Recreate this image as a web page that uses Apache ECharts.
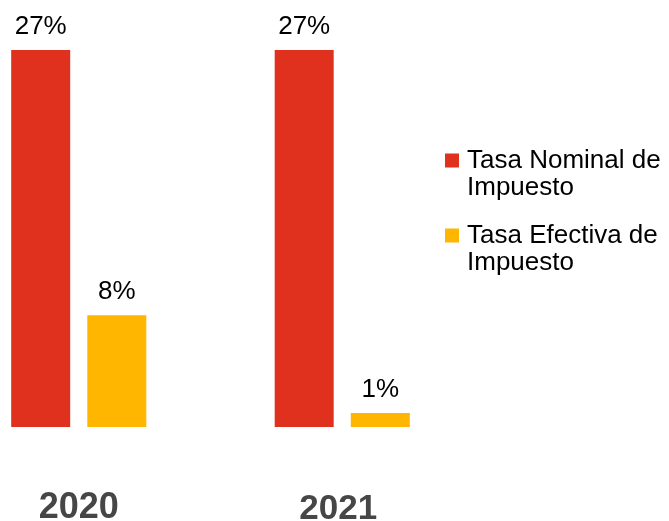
<!DOCTYPE html>
<html>
<head>
<meta charset="utf-8">
<script src="https://cdn.jsdelivr.net/npm/echarts@6/dist/echarts.min.js"></script>
<style>
  html, body { margin: 0; padding: 0; background: #fff; }
  #chart { width: 669px; height: 521px; }
</style>
</head>
<body>
<div id="chart"></div>
<script>
// Tax rates per year, in percent
const years = ['2020', '2021'];
const seriesNames = ['Tasa Nominal de\nImpuesto', 'Tasa Efectiva de\nImpuesto'];
const nominalRate = [27, 27];
const effectiveRate = [8, 1];

const chart = echarts.init(document.getElementById('chart'));

const fontFamily = 'Liberation Sans, Arial, sans-serif';

const valueLabel = {
  show: true,
  position: 'top',
  distance: 10,
  formatter: p => p.value + '%',
  fontFamily: fontFamily,
  fontSize: 26,
  color: '#000'
};

chart.setOption({
  animation: false,
  backgroundColor: '#fff',
  grid: { left: -53, right: 195, top: 50, bottom: 94, outerBoundsMode: 'none' },
  legend: {
    orient: 'vertical',
    left: 445,
    top: 120,
    padding: 0,
    itemGap: -6,
    itemWidth: 14,
    itemHeight: 14,
    icon: 'rect',
    selectedMode: false,
    data: seriesNames,
    // a blank first line keeps the marker level with the first line of text
    formatter: name => '\n' + name.split('\n').map(s => '{t|' + s + '}').join('\n'),
    textStyle: {
      fontFamily: fontFamily,
      fontSize: 26,
      lineHeight: 27,
      color: '#000',
      rich: {
        t: {
          fontFamily: fontFamily,
          fontSize: 26,
          lineHeight: 27,
          color: '#000',
          padding: [0, 0, 0, 3]
        }
      }
    }
  },
  xAxis: {
    type: 'category',
    data: years,
    axisLine: { show: false },
    axisTick: { show: false },
    axisLabel: {
      margin: 63,
      fontFamily: fontFamily,
      fontWeight: 'bold',
      fontSize: 36,
      color: '#464646',
      formatter: v => v === '2021' ? '{b|' + v + '}' : v,
      rich: {
        b: {
          fontFamily: fontFamily,
          fontWeight: 'bold',
          fontSize: 35,
          color: '#464646',
          padding: [2, 8, 0, 0]
        }
      }
    }
  },
  yAxis: {
    type: 'value',
    min: 0,
    max: 27,
    show: false,
    splitLine: { show: false }
  },
  series: [
    {
      name: seriesNames[0],
      type: 'bar',
      data: nominalRate,
      barWidth: 59,
      barGap: '29%',
      itemStyle: { color: '#E0301E' },
      label: valueLabel
    },
    {
      name: seriesNames[1],
      type: 'bar',
      data: effectiveRate,
      barWidth: 59,
      itemStyle: { color: '#FFB600' },
      label: valueLabel
    }
  ]
});
</script>
</body>
</html>
